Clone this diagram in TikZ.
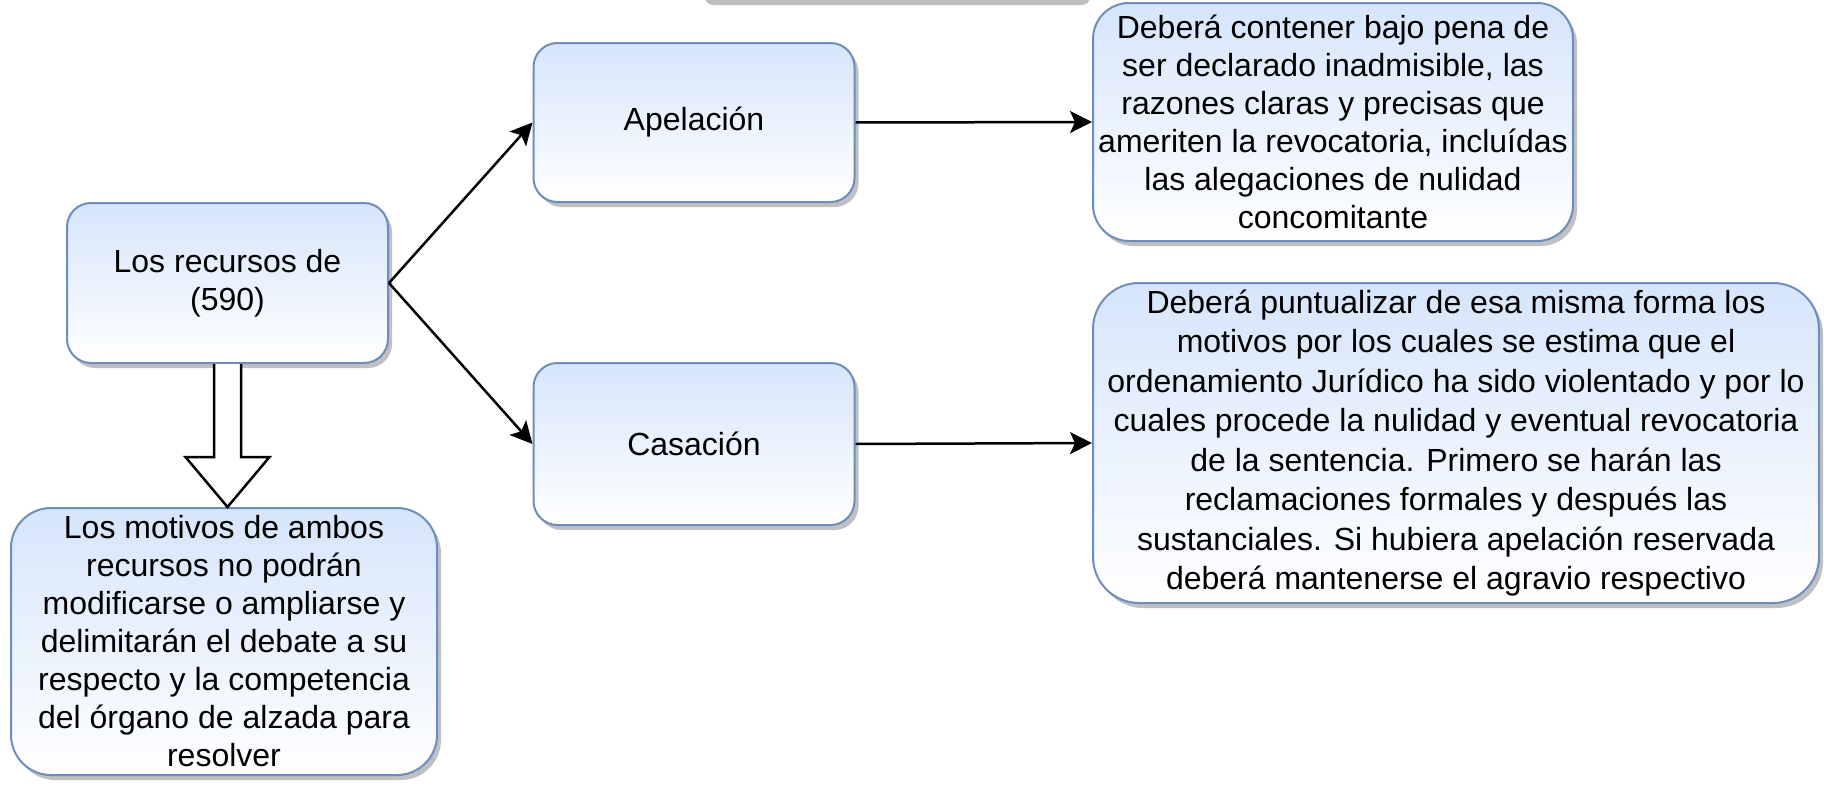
\documentclass[tikz,border=0pt]{standalone}
\usepackage{fontspec}
\setmainfont{Liberation Sans}
\usetikzlibrary{arrows.meta,shadows,calc}
\definecolor{boxline}{HTML}{6C8EBF}
\definecolor{boxtop}{HTML}{D6E5FB}
\begin{document}
\begin{tikzpicture}[x=1pt,y=-1pt,
  box/.style={draw=boxline, line width=2pt, top color=boxtop, bottom color=white,
    rounded corners=#1, align=center, inner sep=0pt,
    font=\fontsize{32pt}{38pt}\selectfont,
    drop shadow={shadow xshift=4pt, shadow yshift=-5pt, fill=black!45, opacity=0.55}},
  box/.default=24pt,
  conn/.style={line width=2.5pt, -{Stealth[length=22pt,width=22pt,inset=5pt]}},
  hollow/.style={line width=2.5pt, fill=white, line join=miter}
]
\useasboundingbox (0,0) rectangle (1824,787);
\begin{scope}
\clip (0,0) rectangle (1824,787);
\fill[black!25, rounded corners=8pt] (705,-40) rectangle (1090,5);
\end{scope}

\node[box, minimum width=321pt, minimum height=160pt] (rec) at (227.5,283) {Los recursos de\\(590)};
\node[box, minimum width=321pt, minimum height=159pt] (apel) at (694,122.5) {Apelación};
\node[box, minimum width=321pt, minimum height=162pt] (cas) at (694,444) {Casación};
\node[box=36pt, minimum width=480pt, minimum height=238pt] (dap) at (1333,122)
  {Deberá contener bajo pena de\\ser declarado inadmisible, las\\razones claras y precisas que\\ameriten la revocatoria, incluídas\\las alegaciones de nulidad\\concomitante};
\node[box=46pt, minimum width=726pt, minimum height=320pt, font=\fontsize{32pt}{39.5pt}\selectfont] (dcas) at (1456,443)
  {Deberá puntualizar de esa misma forma los\\motivos por los cuales se estima que el\\ordenamiento Jurídico ha sido violentado y por lo\\cuales procede la nulidad y eventual revocatoria\\de la sentencia. Primero se harán las\\reclamaciones formales y después las\\sustanciales. Si hubiera apelación reservada\\deberá mantenerse el agravio respectivo};
\node[box=40pt, minimum width=426pt, minimum height=267pt] (mot) at (224,641.5)
  {Los motivos de ambos\\recursos no podrán\\modificarse o ampliarse y\\delimitarán el debate a su\\respecto y la competencia\\del órgano de alzada para\\resolver};

\draw[conn] (rec.east) -- (apel.west);
\draw[conn] (rec.east) -- (cas.west);
\draw[conn] (apel.east) -- (dap.west);
\draw[conn] (cas.east) -- (dcas.west);

\draw[hollow] ($(rec.south)+(-13.5,0)$) -- ++(0,93) -- ++(-28.5,0)
  -- ($(rec.south)+(0,143)$) -- ++(42,-50) -- ++(-28.5,0) -- ++(0,-93);
\end{tikzpicture}
\end{document}
